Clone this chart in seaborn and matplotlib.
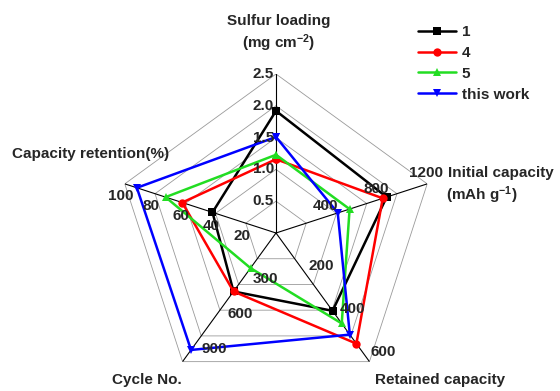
import numpy as np
import pandas as pd
import matplotlib
matplotlib.use("Agg")
import matplotlib.pyplot as plt
import seaborn as sns

# ---- data ----
series = ["1", "4", "5", "this work"]
axis_names = ["Sulfur loading", "Initial capacity", "Retained capacity", "Cycle No.", "Capacity retention"]
sulfur = [1.92, 1.16, 1.23, 1.51]
initial_cap = [878, 847, 584, 490]
retained_cap = [363, 516, 422, 474]
cycle_no = [500, 500, 300, 1000]
retention = [42, 62, 73, 92]
axis_max = [2.5, 1200, 600, 1100, 100]

sulfur_ticks = ["0.5", "1.0", "1.5", "2.0", "2.5"]
initial_ticks = [400, 800, 1200]
retained_ticks = [200, 400, 600]
cycle_ticks = [300, 600, 900]
retention_ticks = [20, 40, 60, 80, 100]

colors = ["#000000", "#ff0000", "#22dd22", "#0000ff"]
markers = ["s", "o", "^", "v"]

sns.set_style("white")
plt.rcParams["font.family"] = ["Liberation Sans", "DejaVu Sans"]
plt.rcParams["font.weight"] = "bold"
plt.rcParams["mathtext.fontset"] = "custom"
plt.rcParams["mathtext.rm"] = "Liberation Sans:bold"
plt.rcParams["mathtext.bf"] = "Liberation Sans:bold"
plt.rcParams["mathtext.default"] = "bf"

W, H = 560, 391
fig = plt.figure(figsize=(W / 100, H / 100), dpi=100)
cx, cy, R = 276, 233, 159
ax = fig.add_axes([(cx - R) / W, (H - cy - R) / H, 2 * R / W, 2 * R / H], projection="polar")
ax.set_facecolor("none")

# axis angles: start at top, go clockwise
thetas = np.pi / 2 - np.arange(5) * 2 * np.pi / 5

# build long table
rows = []
vals = [sulfur, initial_cap, retained_cap, cycle_no, retention]
for si, s in enumerate(series):
    for k in range(6):
        j = k % 5
        rows.append({"series": s, "theta": thetas[0] - k * 2 * np.pi / 5,
                     "r": vals[j][si] / axis_max[j], "order": k})
df = pd.DataFrame(rows)

# grid rings (pentagons) and spokes
ring_th = np.append(thetas, thetas[0])
for lev in [0.2, 0.4, 0.6, 0.8, 1.0]:
    ax.plot(ring_th, [lev] * 6, color="#9a9a9a", lw=0.6, zorder=1)
for th in thetas:
    ax.plot([th, th], [0, 1], color="black", lw=0.8, zorder=1)

sns.lineplot(data=df, x="theta", y="r", hue="series", style="series",
             hue_order=series, style_order=series,
             palette=dict(zip(series, colors)), markers=dict(zip(series, markers)),
             dashes=False, sort=False, estimator=None, lw=1.8, markersize=6,
             markeredgewidth=0, ax=ax, zorder=3)

ax.set_ylim(0, 1)
ax.set_xticks([])
ax.set_yticks([])
ax.grid(False)
ax.spines["polar"].set_visible(False)
ax.set_xlabel("")
ax.set_ylabel("")

fs = 11
px = 0.72
# tick labels
for i, t in enumerate(sulfur_ticks):
    ax.annotate(t, (thetas[0], (i + 1) / 5), xytext=(-2 * px, 0), textcoords="offset points",
                ha="right", va="center", fontsize=fs, fontweight="bold")
for t in initial_ticks:
    ax.annotate(str(t), (thetas[1], t / axis_max[1]), xytext=(-1 * px, 11 * px), textcoords="offset points",
                ha="center", va="center", fontsize=fs, fontweight="bold")
for t in retained_ticks:
    ax.annotate(str(t), (thetas[2], t / axis_max[2]), xytext=(14 * px, 10 * px), textcoords="offset points",
                ha="center", va="center", fontsize=fs, fontweight="bold")
for t in cycle_ticks:
    ax.annotate(str(t), (thetas[3], t / axis_max[3]), xytext=(15 * px, -11 * px), textcoords="offset points",
                ha="center", va="center", fontsize=fs, fontweight="bold")
for t in retention_ticks:
    ax.annotate(str(t), (thetas[4], t / axis_max[4]), xytext=(-4 * px, -12.5 * px), textcoords="offset points",
                ha="center", va="center", fontsize=fs, fontweight="bold")

def ftext(x, y, s, **kw):
    fig.text(x / W, 1 - y / H, s, fontsize=fs, fontweight="bold", va="center", **kw)

ftext(279, 21, "Sulfur loading", ha="center")
ftext(279, 43, r"(mg cm$^{-2}$)", ha="center")
ftext(448, 173, "Initial capacity", ha="left")
ftext(482, 195, r"(mAh g$^{-1}$)", ha="center")
ftext(440, 380, "Retained capacity", ha="center")
ftext(147, 380, "Cycle No.", ha="center")
ftext(12, 154, "Capacity retention(%)", ha="left")

sns.move_legend(ax, loc="upper left", bbox_to_anchor=(418 / W, 1 - 25 / H),
                bbox_transform=fig.transFigure, frameon=False, title=None,
                fontsize=fs, handlelength=2.5, handletextpad=0.35, labelspacing=0.45,
                borderpad=0, borderaxespad=0)
for t in ax.get_legend().get_texts():
    t.set_fontweight("bold")

fig.savefig("out.png", dpi=100)
